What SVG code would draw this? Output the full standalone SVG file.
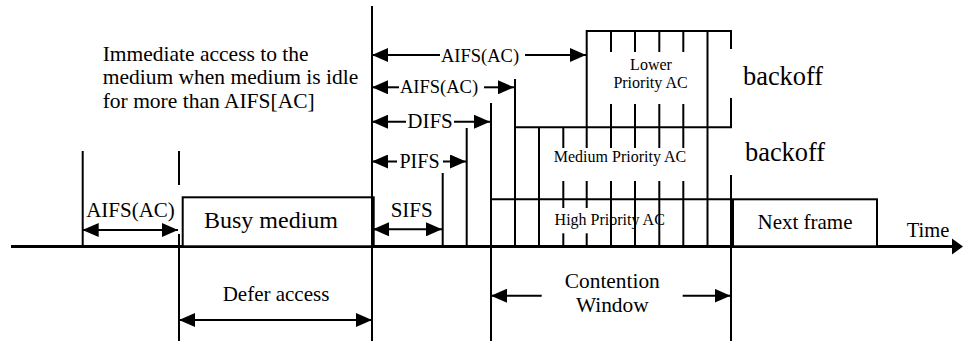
<svg xmlns="http://www.w3.org/2000/svg" width="963" height="343" viewBox="0 0 963 343" font-family="'Liberation Serif', Tinos, 'Times New Roman', 'DejaVu Serif', serif">
  <style>
    .ln { stroke: #000; stroke-width: 2; fill: none; }
    .box { stroke: #000; stroke-width: 2; fill: #fff; }
    .arr { stroke: #000; stroke-width: 2; fill: none; }
    text { font-family: 'Liberation Serif', Tinos, 'Times New Roman', 'DejaVu Serif', serif; fill: #000; }
    .mid { text-anchor: middle; }
  </style>
  <defs>
    <marker id="ah" viewBox="0 0 16 14" markerWidth="16" markerHeight="14" refX="16" refY="7" orient="auto-start-reverse" markerUnits="userSpaceOnUse">
      <path d="M0,0 L16,7 L0,14 z" fill="#000"/>
    </marker>
  </defs>

  <rect width="963" height="343" fill="#fff"/>

  <!-- time axis -->
  <g id="time-axis">
    <line x1="11" y1="246.5" x2="953" y2="246.5" stroke="#000" stroke-width="3"/>
    <path d="M952,238.5 L963,246.5 L952,254.5 z" fill="#000"/>
    <text class="mid" x="928" y="236.5" font-size="20.5">Time</text>
  </g>

  <!-- busy medium frame -->
  <g id="busy-medium">
    <rect class="box" x="182.7" y="197.3" width="191" height="49"/>
    <text class="mid" x="271" y="228" font-size="24">Busy medium</text>
  </g>

  <!-- next frame -->
  <g id="next-frame">
    <rect class="box" x="733" y="199.3" width="144" height="47"/>
    <text class="mid" x="805" y="229" font-size="21">Next frame</text>
  </g>

  <!-- lower priority access category -->
  <g id="lower-ac">
    <line class="ln" x1="586.7" y1="31" x2="731" y2="31"/>
    <line class="ln" x1="586.7" y1="30" x2="586.7" y2="148"/>
    <line class="ln" x1="731" y1="30" x2="731" y2="49"/>
    <line class="ln" x1="731" y1="98" x2="731" y2="128"/>
    <line class="ln" x1="611" y1="31" x2="611" y2="52"/>
    <line class="ln" x1="635" y1="31" x2="635" y2="52"/>
    <line class="ln" x1="659.3" y1="31" x2="659.3" y2="52"/>
    <line class="ln" x1="683.3" y1="31" x2="683.3" y2="52"/>
    <text class="mid" x="651" y="70" font-size="16">Lower</text>
    <text class="mid" x="650.5" y="88" font-size="16">Priority AC</text>
    <text x="743" y="84.5" font-size="26.4">backoff</text>
  </g>

  <!-- medium priority access category -->
  <g id="medium-ac">
    <line class="ln" x1="515" y1="127.3" x2="732" y2="127.3"/>
    <line class="ln" x1="515" y1="79" x2="515" y2="246"/>
    <line class="ln" x1="539" y1="127" x2="539" y2="246"/>
    <line class="ln" x1="563.3" y1="127" x2="563.3" y2="148"/>
    <line class="ln" x1="611" y1="104" x2="611" y2="148"/>
    <line class="ln" x1="635" y1="104" x2="635" y2="148"/>
    <line class="ln" x1="659.3" y1="104" x2="659.3" y2="148"/>
    <line class="ln" x1="683.3" y1="104" x2="683.3" y2="148"/>
    <line class="ln" x1="707.5" y1="30" x2="707.5" y2="246"/>
    <text class="mid" x="620" y="162" font-size="16">Medium Priority AC</text>
    <text x="745" y="161" font-size="26.4">backoff</text>
  </g>

  <!-- high priority access category -->
  <g id="high-ac">
    <line class="ln" x1="491" y1="199.3" x2="732" y2="199.3"/>
    <line class="ln" x1="563.3" y1="181" x2="563.3" y2="208"/>
    <line class="ln" x1="563.3" y1="233.3" x2="563.3" y2="246"/>
    <line class="ln" x1="586.7" y1="181" x2="586.7" y2="208"/>
    <line class="ln" x1="586.7" y1="233.3" x2="586.7" y2="246"/>
    <line class="ln" x1="611" y1="181" x2="611" y2="246"/>
    <line class="ln" x1="635" y1="181" x2="635" y2="246"/>
    <line class="ln" x1="659.3" y1="181" x2="659.3" y2="246"/>
    <line class="ln" x1="683.3" y1="181" x2="683.3" y2="246"/>
    <text class="mid" x="609.7" y="225" font-size="16">High Priority AC</text>
  </g>

  <!-- explanatory note -->
  <g id="note">
    <text x="102.7" y="61" font-size="21.5">Immediate access to the</text>
    <text x="102.7" y="84.3" font-size="21.5">medium when medium is idle</text>
    <text x="102.7" y="107.7" font-size="21.5">for more than AIFS[AC]</text>
  </g>

  <!-- slot boundaries -->
  <g id="boundaries">
    <line class="ln" x1="82.7" y1="151" x2="82.7" y2="246"/>
    <line class="ln" x1="179" y1="151" x2="179" y2="185"/>
    <line class="ln" x1="179" y1="234" x2="179" y2="341"/>
    <line class="ln" x1="372" y1="6" x2="372" y2="341"/>
    <line class="ln" x1="442.7" y1="173" x2="442.7" y2="246"/>
    <line class="ln" x1="466.7" y1="128" x2="466.7" y2="246"/>
    <line class="ln" x1="491" y1="103" x2="491" y2="341"/>
    <line class="ln" x1="731" y1="175" x2="731" y2="341"/>
  </g>

  <!-- interval arrows -->
  <g id="connectors">
    <line class="arr" x1="82.7" y1="230" x2="178" y2="230" marker-start="url(#ah)" marker-end="url(#ah)"/>
    <text class="mid" x="130.5" y="217" font-size="21">AIFS(AC)</text>

    <line class="arr" x1="373" y1="229.3" x2="442" y2="229.3" marker-start="url(#ah)" marker-end="url(#ah)"/>
    <text class="mid" x="411.7" y="217.3" font-size="21">SIFS</text>

    <line class="arr" x1="372" y1="161.5" x2="397" y2="161.5" marker-start="url(#ah)"/>
    <line class="arr" x1="443" y1="161.5" x2="466" y2="161.5" marker-end="url(#ah)"/>
    <text class="mid" x="419.5" y="168" font-size="20">PIFS</text>

    <line class="arr" x1="372" y1="121.7" x2="406" y2="121.7" marker-start="url(#ah)"/>
    <line class="arr" x1="454" y1="121.7" x2="490" y2="121.7" marker-end="url(#ah)"/>
    <text class="mid" x="430" y="128.3" font-size="21">DIFS</text>

    <line class="arr" x1="372" y1="87.3" x2="399" y2="87.3" marker-start="url(#ah)"/>
    <line class="arr" x1="484" y1="87.3" x2="514" y2="87.3" marker-end="url(#ah)"/>
    <text class="mid" x="439" y="93" font-size="18.5">AIFS(AC)</text>

    <line class="arr" x1="372" y1="55" x2="440" y2="55" marker-start="url(#ah)"/>
    <line class="arr" x1="525" y1="55" x2="586" y2="55" marker-end="url(#ah)"/>
    <text class="mid" x="480" y="61.5" font-size="18.5">AIFS(AC)</text>

    <line class="arr" x1="179" y1="320" x2="372" y2="320" marker-start="url(#ah)" marker-end="url(#ah)"/>
    <text class="mid" x="276" y="301" font-size="21">Defer access</text>

    <line class="arr" x1="491" y1="295.7" x2="541.7" y2="295.7" marker-start="url(#ah)"/>
    <line class="arr" x1="682.7" y1="295.7" x2="730.5" y2="295.7" marker-end="url(#ah)"/>
    <text class="mid" x="612.3" y="288.3" font-size="21.4">Contention</text>
    <text class="mid" x="612.3" y="311.7" font-size="21.4">Window</text>
  </g>
</svg>
